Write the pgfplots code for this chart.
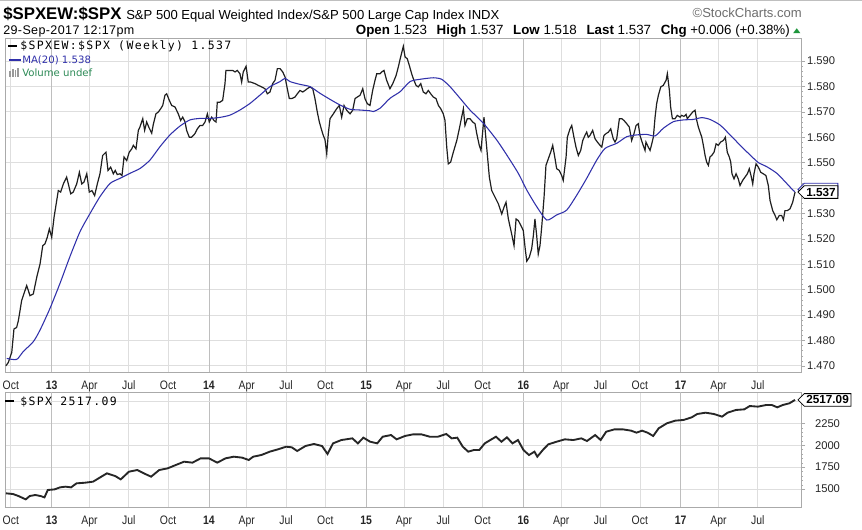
\documentclass[border=0pt]{standalone}
\usepackage{fontspec}
\setmainfont{Liberation Sans}
\newfontfamily\narrowfont{Liberation Sans}[FakeStretch=0.85]
\newfontfamily\spacedfont{Liberation Sans}[LetterSpace=3]
\newfontfamily\monofont{DejaVu Sans Mono}[LetterSpace=12]
\newfontfamily\dejavu{DejaVu Sans}
\usepackage{pgfplots}
\pgfplotsset{compat=1.18}
\usetikzlibrary{shapes.symbols}
\definecolor{mablue}{RGB}{48,48,170}
\definecolor{gridc}{RGB}{222,222,222}
\definecolor{yeargrid}{RGB}{190,190,190}
\definecolor{framec}{RGB}{170,170,170}
\definecolor{volgreen}{RGB}{46,139,87}
\definecolor{scgray}{RGB}{110,110,110}
\definecolor{upgreen}{RGB}{30,150,60}
\pgfplotsset{
 scaxis/.style={
  scale only axis, anchor=north west, width=597pt,
  xmin=2012.703, xmax=2017.765,
  axis line style={draw=framec, line width=0.5pt},
  xtick={2012.74,2013,2013.24,2013.49,2013.74,2014,2014.24,2014.49,2014.74,2015,2015.24,2015.49,2015.74,2016,2016.24,2016.49,2016.74,2017,2017.24,2017.49},
  xticklabels={Oct,\textbf{13},Apr,Jul,Oct,\textbf{14},Apr,Jul,Oct,\textbf{15},Apr,Jul,Oct,\textbf{16},Apr,Jul,Oct,\textbf{17},Apr,Jul},
  xticklabel style={font=\narrowfont\fontsize{9.2}{10}\selectfont, text=black!85},
  xtick style={draw=none},
  extra x ticks={2013,2014,2015,2016,2017},
  extra x tick labels={},
  extra x tick style={grid=major, major grid style={draw=yeargrid, line width=0.6pt}, tick style={draw=none}},
  xmajorgrids, ymajorgrids,
  major grid style={draw=gridc, line width=0.5pt},
  ytick pos=right, yticklabel pos=right,
  yticklabel style={font=\fontsize{8.4}{10}\selectfont, text=black!85, anchor=west},
  ytick style={draw=framec},
  major tick length=3pt, minor tick length=1.5pt,
  minor y tick num=4,
  tick align=outside,
  clip mode=individual,
 }
}
\begin{document}
\begin{tikzpicture}
\path[use as bounding box, fill=white] (0,0) rectangle (646.5pt,-397.5pt);
\draw[gray!50, line width=0.6pt] (0,-0.3pt) -- (646.5pt,-0.3pt);
% header
\node[anchor=base west, inner sep=0] at (2.25pt,-14.5pt) {\fontsize{12.6}{14}\selectfont\bfseries \$SPXEW:\$SPX};
\node[anchor=base west, inner sep=0] at (94.5pt,-14.5pt) {\fontsize{9.8}{11}\selectfont S\&P 500 Equal Weighted Index/S\&P 500 Large Cap Index INDX};
\node[anchor=base east, inner sep=0, text=scgray] at (601.5pt,-13.5pt) {\fontsize{9.8}{11}\selectfont \textcopyright StockCharts.com};
\node[anchor=base west, inner sep=0] at (2.25pt,-25.7pt) {\spacedfont\fontsize{9.4}{11}\selectfont 29-Sep-2017 12:17pm};
\node[anchor=base east, inner sep=0] at (592.5pt,-25.7pt) {\fontsize{10}{11}\selectfont \textbf{Open} 1.523\hspace{4.5pt} \textbf{High} 1.537\hspace{4.5pt} \textbf{Low} 1.518\hspace{4.5pt} \textbf{Last} 1.537\hspace{4.5pt} \textbf{Chg} +0.006 (+0.38\%)};
\fill[upgreen] (594.9pt,-24.8pt) -- (600.2pt,-24.8pt) -- (597.55pt,-21.2pt) -- cycle;

% ---------------- top panel ----------------
\begin{axis}[scaxis, at={(3.75pt,-28.5pt)}, height=250.5pt,
  ymin=1.46756, ymax=1.59906,
  ytick={1.47,1.48,1.49,1.50,1.51,1.52,1.53,1.54,1.55,1.56,1.57,1.58,1.59},
  yticklabels={1.470,1.480,1.490,1.500,1.510,1.520,1.530,1.540,1.550,1.560,1.570,1.580,1.590},
  yticklabel style={xshift=-2pt}]
\addplot[black!88, line width=0.9pt] table[row sep=\\] {
x y\\
2012.709 1.4700\\ 2012.724 1.4713\\ 2012.746 1.4753\\ 2012.760 1.4845\\ 2012.777 1.4851\\
2012.788 1.4878\\ 2012.809 1.4957\\ 2012.841 1.5016\\ 2012.862 1.4976\\ 2012.883 1.4983\\
2012.905 1.5049\\ 2012.926 1.5101\\ 2012.943 1.5173\\ 2012.957 1.5180\\ 2012.972 1.5206\\
2012.985 1.5239\\ 2013.000 1.5206\\ 2013.015 1.5285\\ 2013.032 1.5351\\ 2013.042 1.5390\\
2013.057 1.5384\\ 2013.074 1.5416\\ 2013.095 1.5443\\ 2013.121 1.5377\\ 2013.137 1.5384\\
2013.159 1.5416\\ 2013.176 1.5462\\ 2013.191 1.5416\\ 2013.205 1.5423\\ 2013.223 1.5456\\
2013.239 1.5384\\ 2013.256 1.5390\\ 2013.273 1.5370\\ 2013.290 1.5416\\ 2013.307 1.5456\\
2013.324 1.5528\\ 2013.345 1.5541\\ 2013.358 1.5469\\ 2013.375 1.5482\\ 2013.392 1.5456\\
2013.404 1.5469\\ 2013.417 1.5453\\ 2013.434 1.5456\\ 2013.447 1.5449\\ 2013.460 1.5522\\
2013.477 1.5508\\ 2013.493 1.5541\\ 2013.509 1.5554\\ 2013.519 1.5568\\ 2013.536 1.5554\\
2013.551 1.5627\\ 2013.561 1.5640\\ 2013.579 1.5673\\ 2013.591 1.5627\\ 2013.604 1.5660\\
2013.617 1.5640\\ 2013.636 1.5616\\ 2013.646 1.5650\\ 2013.663 1.5692\\ 2013.678 1.5699\\
2013.693 1.5712\\ 2013.706 1.5725\\ 2013.720 1.5765\\ 2013.731 1.5771\\ 2013.748 1.5745\\
2013.763 1.5725\\ 2013.784 1.5719\\ 2013.805 1.5692\\ 2013.820 1.5666\\ 2013.833 1.5679\\
2013.848 1.5660\\ 2013.858 1.5627\\ 2013.875 1.5600\\ 2013.890 1.5600\\ 2013.911 1.5614\\
2013.926 1.5633\\ 2013.943 1.5646\\ 2013.960 1.5646\\ 2013.975 1.5660\\ 2013.990 1.5692\\
2014.002 1.5660\\ 2014.017 1.5679\\ 2014.032 1.5666\\ 2014.045 1.5660\\ 2014.053 1.5738\\
2014.070 1.5738\\ 2014.087 1.5745\\ 2014.102 1.5811\\ 2014.108 1.5863\\ 2014.134 1.5863\\
2014.151 1.5863\\ 2014.166 1.5857\\ 2014.180 1.5863\\ 2014.197 1.5850\\ 2014.208 1.5817\\
2014.218 1.5857\\ 2014.236 1.5879\\ 2014.250 1.5817\\ 2014.266 1.5817\\ 2014.293 1.5811\\
2014.314 1.5804\\ 2014.335 1.5798\\ 2014.356 1.5791\\ 2014.371 1.5771\\ 2014.388 1.5778\\
2014.405 1.5811\\ 2014.420 1.5824\\ 2014.435 1.5870\\ 2014.452 1.5870\\ 2014.469 1.5857\\
2014.484 1.5837\\ 2014.494 1.5804\\ 2014.511 1.5752\\ 2014.526 1.5752\\ 2014.547 1.5758\\
2014.562 1.5771\\ 2014.579 1.5784\\ 2014.596 1.5778\\ 2014.611 1.5784\\ 2014.625 1.5791\\
2014.643 1.5798\\ 2014.660 1.5791\\ 2014.674 1.5752\\ 2014.689 1.5699\\ 2014.702 1.5660\\
2014.717 1.5627\\ 2014.727 1.5607\\ 2014.738 1.5590\\ 2014.749 1.5535\\ 2014.759 1.5614\\
2014.770 1.5673\\ 2014.791 1.5692\\ 2014.812 1.5712\\ 2014.829 1.5725\\ 2014.844 1.5679\\
2014.859 1.5725\\ 2014.876 1.5706\\ 2014.897 1.5692\\ 2014.914 1.5706\\ 2014.929 1.5752\\
2014.943 1.5758\\ 2014.961 1.5765\\ 2014.978 1.5791\\ 2014.992 1.5752\\ 2015.007 1.5732\\
2015.024 1.5725\\ 2015.041 1.5784\\ 2015.056 1.5824\\ 2015.067 1.5850\\ 2015.088 1.5850\\
2015.099 1.5857\\ 2015.113 1.5863\\ 2015.130 1.5824\\ 2015.151 1.5791\\ 2015.169 1.5811\\
2015.190 1.5843\\ 2015.204 1.5876\\ 2015.219 1.5916\\ 2015.236 1.5958\\ 2015.247 1.5916\\
2015.261 1.5909\\ 2015.274 1.5883\\ 2015.289 1.5850\\ 2015.300 1.5830\\ 2015.317 1.5804\\
2015.331 1.5798\\ 2015.347 1.5811\\ 2015.363 1.5778\\ 2015.380 1.5771\\ 2015.395 1.5784\\
2015.410 1.5771\\ 2015.427 1.5758\\ 2015.444 1.5752\\ 2015.459 1.5725\\ 2015.474 1.5712\\
2015.490 1.5692\\ 2015.501 1.5666\\ 2015.512 1.5561\\ 2015.522 1.5495\\ 2015.537 1.5502\\
2015.554 1.5541\\ 2015.576 1.5587\\ 2015.592 1.5633\\ 2015.607 1.5679\\ 2015.618 1.5712\\
2015.628 1.5646\\ 2015.643 1.5673\\ 2015.660 1.5673\\ 2015.677 1.5660\\ 2015.692 1.5653\\
2015.703 1.5614\\ 2015.719 1.5568\\ 2015.730 1.5548\\ 2015.749 1.5679\\ 2015.766 1.5561\\
2015.783 1.5443\\ 2015.798 1.5390\\ 2015.819 1.5364\\ 2015.840 1.5338\\ 2015.862 1.5298\\
2015.876 1.5324\\ 2015.889 1.5344\\ 2015.904 1.5278\\ 2015.925 1.5219\\ 2015.940 1.5173\\
2015.953 1.5278\\ 2015.967 1.5272\\ 2015.989 1.5246\\ 2015.999 1.5232\\ 2016.010 1.5167\\
2016.021 1.5112\\ 2016.037 1.5127\\ 2016.052 1.5160\\ 2016.063 1.5213\\ 2016.073 1.5278\\
2016.084 1.5213\\ 2016.094 1.5140\\ 2016.105 1.5173\\ 2016.116 1.5246\\ 2016.131 1.5364\\
2016.143 1.5489\\ 2016.158 1.5515\\ 2016.173 1.5541\\ 2016.186 1.5568\\ 2016.201 1.5515\\
2016.211 1.5476\\ 2016.228 1.5469\\ 2016.243 1.5449\\ 2016.253 1.5430\\ 2016.271 1.5522\\
2016.279 1.5600\\ 2016.296 1.5633\\ 2016.307 1.5646\\ 2016.321 1.5600\\ 2016.334 1.5561\\
2016.349 1.5528\\ 2016.364 1.5548\\ 2016.377 1.5587\\ 2016.391 1.5607\\ 2016.402 1.5620\\
2016.412 1.5600\\ 2016.423 1.5607\\ 2016.440 1.5627\\ 2016.455 1.5594\\ 2016.470 1.5581\\
2016.487 1.5568\\ 2016.498 1.5561\\ 2016.512 1.5607\\ 2016.525 1.5614\\ 2016.540 1.5620\\
2016.555 1.5633\\ 2016.571 1.5594\\ 2016.582 1.5581\\ 2016.593 1.5594\\ 2016.610 1.5673\\
2016.625 1.5673\\ 2016.639 1.5666\\ 2016.657 1.5653\\ 2016.673 1.5640\\ 2016.688 1.5587\\
2016.703 1.5614\\ 2016.716 1.5646\\ 2016.730 1.5653\\ 2016.741 1.5607\\ 2016.758 1.5574\\
2016.773 1.5548\\ 2016.779 1.5581\\ 2016.794 1.5561\\ 2016.805 1.5548\\ 2016.816 1.5574\\
2016.826 1.5600\\ 2016.837 1.5679\\ 2016.847 1.5732\\ 2016.858 1.5765\\ 2016.873 1.5798\\
2016.889 1.5804\\ 2016.907 1.5824\\ 2016.915 1.5850\\ 2016.928 1.5784\\ 2016.936 1.5719\\
2016.947 1.5673\\ 2016.964 1.5673\\ 2016.978 1.5686\\ 2016.996 1.5679\\ 2017.006 1.5686\\
2017.021 1.5682\\ 2017.034 1.5690\\ 2017.042 1.5673\\ 2017.059 1.5686\\ 2017.076 1.5699\\
2017.091 1.5706\\ 2017.102 1.5666\\ 2017.112 1.5640\\ 2017.123 1.5620\\ 2017.134 1.5600\\
2017.144 1.5568\\ 2017.155 1.5528\\ 2017.165 1.5502\\ 2017.176 1.5489\\ 2017.186 1.5522\\
2017.197 1.5528\\ 2017.212 1.5541\\ 2017.225 1.5574\\ 2017.239 1.5568\\ 2017.254 1.5581\\
2017.271 1.5587\\ 2017.284 1.5600\\ 2017.296 1.5541\\ 2017.309 1.5522\\ 2017.318 1.5502\\
2017.326 1.5456\\ 2017.339 1.5436\\ 2017.352 1.5456\\ 2017.366 1.5436\\ 2017.377 1.5410\\
2017.394 1.5430\\ 2017.409 1.5443\\ 2017.424 1.5456\\ 2017.436 1.5476\\ 2017.447 1.5449\\
2017.458 1.5416\\ 2017.466 1.5456\\ 2017.479 1.5495\\ 2017.494 1.5482\\ 2017.509 1.5462\\
2017.525 1.5456\\ 2017.542 1.5449\\ 2017.557 1.5410\\ 2017.568 1.5351\\ 2017.585 1.5311\\
2017.600 1.5292\\ 2017.611 1.5275\\ 2017.627 1.5292\\ 2017.642 1.5292\\ 2017.653 1.5275\\
2017.663 1.5311\\ 2017.678 1.5311\\ 2017.695 1.5318\\ 2017.712 1.5344\\ 2017.727 1.5384\\
};
\addplot[mablue, line width=0.8pt, smooth, tension=0.4] table[row sep=\\] {
x y\\
2012.714 1.4729\\ 2012.777 1.4725\\ 2012.819 1.4756\\ 2012.883 1.4795\\ 2012.926 1.4841\\
2012.989 1.4926\\ 2013.053 1.5025\\ 2013.116 1.5130\\ 2013.180 1.5228\\ 2013.244 1.5300\\
2013.307 1.5366\\ 2013.371 1.5418\\ 2013.434 1.5438\\ 2013.498 1.5458\\ 2013.562 1.5477\\
2013.625 1.5510\\ 2013.689 1.5563\\ 2013.752 1.5609\\ 2013.816 1.5644\\ 2013.879 1.5668\\
2013.943 1.5674\\ 2014.007 1.5674\\ 2014.070 1.5678\\ 2014.134 1.5687\\ 2014.197 1.5707\\
2014.261 1.5733\\ 2014.325 1.5766\\ 2014.388 1.5799\\ 2014.452 1.5819\\ 2014.484 1.5832\\
2014.515 1.5819\\ 2014.579 1.5808\\ 2014.643 1.5799\\ 2014.706 1.5773\\ 2014.770 1.5749\\
2014.833 1.5727\\ 2014.897 1.5710\\ 2014.961 1.5707\\ 2015.024 1.5704\\ 2015.045 1.5701\\
2015.088 1.5714\\ 2015.151 1.5753\\ 2015.215 1.5779\\ 2015.279 1.5819\\ 2015.342 1.5828\\
2015.427 1.5834\\ 2015.480 1.5828\\ 2015.533 1.5799\\ 2015.597 1.5753\\ 2015.660 1.5707\\
2015.745 1.5655\\ 2015.830 1.5589\\ 2015.894 1.5530\\ 2015.967 1.5458\\ 2016.021 1.5392\\
2016.084 1.5327\\ 2016.148 1.5274\\ 2016.211 1.5294\\ 2016.275 1.5313\\ 2016.339 1.5372\\
2016.402 1.5438\\ 2016.466 1.5510\\ 2016.519 1.5556\\ 2016.593 1.5576\\ 2016.657 1.5602\\
2016.720 1.5609\\ 2016.784 1.5611\\ 2016.837 1.5605\\ 2016.889 1.5635\\ 2016.953 1.5661\\
2017.017 1.5668\\ 2017.080 1.5670\\ 2017.134 1.5677\\ 2017.186 1.5670\\ 2017.250 1.5648\\
2017.314 1.5609\\ 2017.377 1.5569\\ 2017.441 1.5530\\ 2017.494 1.5500\\ 2017.547 1.5484\\
2017.611 1.5458\\ 2017.674 1.5418\\ 2017.716 1.5390\\ 2017.727 1.5386\\
};
\node[signal, signal to=west, draw=mablue, fill=white, inner sep=1.6pt, anchor=west, line width=0.6pt,
  font=\bfseries\fontsize{8.8}{9}\selectfont] at (axis cs:2017.742,1.5394) {\phantom{1.537}};
\node[signal, signal to=west, draw=black, fill=white, inner sep=1.6pt, anchor=west, line width=0.6pt,
  font=\bfseries\fontsize{8.8}{9}\selectfont] at (axis cs:2017.742,1.5384) {1.537};
\end{axis}

% legend top panel
\draw[black, line width=1.6pt] (6pt,-34.2pt) -- (12.75pt,-34.2pt);
\node[anchor=base west, inner sep=0] at (15pt,-37.3pt) {\monofont\fontsize{8.6}{10}\selectfont \$SPXEW:\$SPX (Weekly) 1.537};
\draw[mablue, line width=1.6pt] (6.75pt,-45pt) -- (15.75pt,-45pt);
\node[anchor=base west, inner sep=0, text=mablue] at (16.5pt,-48pt) {\dejavu\fontsize{7.6}{9}\selectfont MA(20) 1.538};
\fill[gray!80] (7pt,-57.5pt) rectangle (8.2pt,-53pt);
\fill[gray!80] (9pt,-57.5pt) rectangle (10.2pt,-51.5pt);
\fill[gray!80] (11pt,-57.5pt) rectangle (12.2pt,-52.5pt);
\fill[gray!80] (13pt,-57.5pt) rectangle (14.2pt,-51pt);
\node[anchor=base west, inner sep=0, text=volgreen] at (16.5pt,-57.75pt) {\dejavu\fontsize{7.6}{9}\selectfont Volume undef};

% ---------------- bottom panel ----------------
\begin{axis}[scaxis, at={(3.75pt,-294pt)}, height=86.25pt,
  ymin=1295, ymax=2607,
  ytick={1500,1750,2000,2250}, yticklabels={1500,1750,2000,2250},
  extra y ticks={2500}, extra y tick labels={},
  yticklabel style={xshift=4pt}]
\addplot[black!85, line width=1.4pt] table[row sep=\\] {
x y\\
2012.709 1451\\ 2012.754 1443\\ 2012.789 1420\\ 2012.835 1382\\ 2012.860 1420\\
2012.895 1432\\ 2012.930 1420\\ 2012.954 1405\\ 2012.975 1489\\ 2013.018 1496\\
2013.053 1519\\ 2013.088 1527\\ 2013.123 1519\\ 2013.158 1565\\ 2013.211 1572\\
2013.263 1584\\ 2013.298 1622\\ 2013.351 1679\\ 2013.404 1648\\ 2013.439 1610\\
2013.491 1698\\ 2013.544 1717\\ 2013.586 1679\\ 2013.632 1641\\ 2013.684 1717\\
2013.737 1736\\ 2013.789 1774\\ 2013.842 1812\\ 2013.895 1801\\ 2013.947 1850\\
2014.000 1850\\ 2014.053 1801\\ 2014.105 1850\\ 2014.158 1869\\ 2014.211 1858\\
2014.253 1831\\ 2014.281 1869\\ 2014.333 1888\\ 2014.386 1926\\ 2014.439 1953\\
2014.491 1983\\ 2014.526 1976\\ 2014.561 1934\\ 2014.614 1991\\ 2014.667 2014\\
2014.719 1991\\ 2014.754 1900\\ 2014.789 2021\\ 2014.842 2059\\ 2014.912 2078\\
2014.947 2021\\ 2014.982 2086\\ 2015.025 2040\\ 2015.070 2021\\ 2015.105 2097\\
2015.158 2116\\ 2015.193 2067\\ 2015.246 2105\\ 2015.298 2124\\ 2015.351 2124\\
2015.404 2097\\ 2015.456 2097\\ 2015.509 2128\\ 2015.544 2078\\ 2015.579 2086\\
2015.614 1983\\ 2015.649 1926\\ 2015.684 1945\\ 2015.719 1945\\ 2015.754 2021\\
2015.789 2059\\ 2015.825 2097\\ 2015.860 2040\\ 2015.895 2090\\ 2015.930 2021\\
2015.965 2059\\ 2016.000 1945\\ 2016.035 1888\\ 2016.070 1926\\ 2016.088 1869\\
2016.123 1945\\ 2016.158 2010\\ 2016.211 2040\\ 2016.263 2067\\ 2016.316 2059\\
2016.368 2078\\ 2016.404 2048\\ 2016.456 2116\\ 2016.491 2059\\ 2016.526 2154\\
2016.579 2181\\ 2016.632 2181\\ 2016.684 2166\\ 2016.719 2143\\ 2016.754 2166\\
2016.789 2143\\ 2016.825 2105\\ 2016.860 2193\\ 2016.912 2250\\ 2016.965 2280\\
2017.018 2288\\ 2017.070 2318\\ 2017.105 2356\\ 2017.158 2371\\ 2017.211 2356\\
2017.263 2326\\ 2017.298 2371\\ 2017.351 2402\\ 2017.404 2409\\ 2017.439 2447\\
2017.491 2440\\ 2017.544 2459\\ 2017.579 2459\\ 2017.614 2432\\ 2017.649 2459\\
2017.691 2478\\ 2017.727 2517\\
};
\node[signal, signal to=west, draw=black, fill=white, inner sep=1.6pt, anchor=west, line width=0.6pt,
  font=\bfseries\fontsize{8.8}{9}\selectfont] at (axis cs:2017.742,2517) {2517.09};
\end{axis}
\draw[black, line width=1.6pt] (3.75pt,-300.75pt) -- (10.5pt,-300.75pt);
\node[anchor=base west, inner sep=0] at (15pt,-303.8pt) {\monofont\fontsize{8.6}{10}\selectfont \$SPX 2517.09};
\end{tikzpicture}
\end{document}
